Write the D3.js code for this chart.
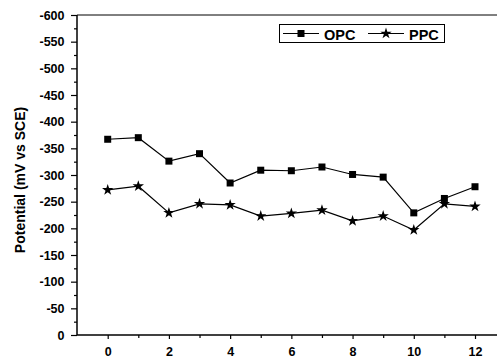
<!DOCTYPE html>
<html>
<head>
<meta charset="utf-8">
<script src="https://cdn.jsdelivr.net/npm/d3@7"></script>
<style>
  body { margin: 0; background: #fff; }
  text { font-family: "Liberation Sans", Arial, sans-serif; font-weight: bold; }
</style>
</head>
<body>
<script>
const xValues = [0, 1, 2, 3, 4, 5, 6, 7, 8, 9, 10, 11, 12],
      opcValues = [-367, -370, -326, -340, -285, -309, -308, -315, -301, -296, -229, -256, -278],
      ppcValues = [-272, -279, -229, -246, -244, -223, -228, -234, -214, -223, -197, -246, -241],
      yTicks = [0, -50, -100, -150, -200, -250, -300, -350, -400, -450, -500, -550, -600],
      xTicks = [0, 2, 4, 6, 8, 10, 12],
      seriesNames = ["OPC", "PPC"];

const width = 497, height = 360,
      margin = {top: 15, right: 0, bottom: 25, left: 77},
      plotBottom = height - margin.bottom;

const svg = d3.select("body").append("svg")
  .attr("width", width)
  .attr("height", height);

const xScale = d3.scaleLinear().domain([0, 12]).range([107.7, 475]),
      yScale = d3.scaleLinear().domain([0, -600]).range([plotBottom, margin.top]);

// frame: top line
svg.append("line")
  .attr("x1", margin.left).attr("x2", width)
  .attr("y1", margin.top).attr("y2", margin.top)
  .attr("stroke", "#000").attr("stroke-width", 1);

// minor ticks (own groups so the major labels survive)
const xAxisMinor = d3.axisBottom(xScale).tickValues(d3.range(1, 12, 2)).tickSize(3).tickFormat("");
const yAxisMinor = d3.axisLeft(yScale).tickValues(d3.range(-25, -600, -50)).tickSize(3).tickFormat("");

// plain hyphen, not the unicode minus d3 uses
const xAxis = d3.axisBottom(xScale).tickValues(xTicks).tickFormat((d) => String(d))
  .tickSizeInner(4).tickSizeOuter(0).tickPadding(8.5);
const yAxis = d3.axisLeft(yScale).tickValues(yTicks).tickFormat((d) => String(d))
  .tickSizeInner(6).tickSizeOuter(0).tickPadding(6.5);

svg.append("g").attr("transform", "translate(0," + plotBottom + ")").call(xAxisMinor)
  .select(".domain").remove();
svg.append("g").attr("transform", "translate(" + margin.left + ",0)").call(yAxisMinor)
  .select(".domain").remove();

const gx = svg.append("g").attr("transform", "translate(0," + plotBottom + ")").call(xAxis);
gx.select(".domain").remove();
gx.append("line").attr("x1", margin.left).attr("x2", width).attr("stroke", "#000").attr("stroke-width", 1.5);

const gy = svg.append("g").attr("transform", "translate(" + margin.left + ",0)").call(yAxis);
gy.select(".domain").remove();
gy.append("line").attr("y1", margin.top).attr("y2", plotBottom).attr("stroke", "#000").attr("stroke-width", 1.5);

svg.selectAll(".tick text").attr("font-size", 12.5).attr("font-weight", "bold").attr("fill", "#000")
  .attr("font-family", "Liberation Sans, Arial, sans-serif");
svg.selectAll(".tick line").attr("stroke", "#000").attr("stroke-width", 1.2);

// y title
svg.append("text")
  .attr("transform", "translate(25," + 180 + ") rotate(-90)")
  .attr("text-anchor", "middle")
  .attr("font-size", 14)
  .text("Potential (mV vs SCE)");

const line = d3.line().x((d, i) => xScale(xValues[i])).y((d) => yScale(d));

function drawSeries(values, marker) {
  svg.append("path")
    .datum(values)
    .attr("d", line)
    .attr("fill", "none")
    .attr("stroke", "#000")
    .attr("stroke-width", 1.2);
  svg.append("g").selectAll("path")
    .data(values).enter()
    .append("path")
    .attr("d", marker)
    .attr("transform", (d, i) => "translate(" + xScale(xValues[i]) + "," + yScale(d) + ")")
    .attr("fill", "#000");
}

const square = d3.symbol(d3.symbolSquare, 49)(),
      star = d3.symbol(d3.symbolStar, 40)();

drawSeries(opcValues, square);
drawSeries(ppcValues, star);

// legend
const lg = svg.append("g");
lg.append("rect")
  .attr("x", 279.5).attr("y", 24.5).attr("width", 165).attr("height", 18)
  .attr("fill", "#fff").attr("stroke", "#000").attr("stroke-width", 1);
[[square, seriesNames[0], 283], [star, seriesNames[1], 368]].forEach(([m, name, x0]) => {
  lg.append("line").attr("x1", x0).attr("x2", x0 + 36).attr("y1", 33.5).attr("y2", 33.5)
    .attr("stroke", "#000").attr("stroke-width", 1.2);
  lg.append("path").attr("d", m).attr("transform", "translate(" + (x0 + 18) + ",33.5)").attr("fill", "#000");
  lg.append("text").attr("x", x0 + 41).attr("y", 40).attr("font-size", 14.5).text(name);
});
</script>
</body>
</html>
